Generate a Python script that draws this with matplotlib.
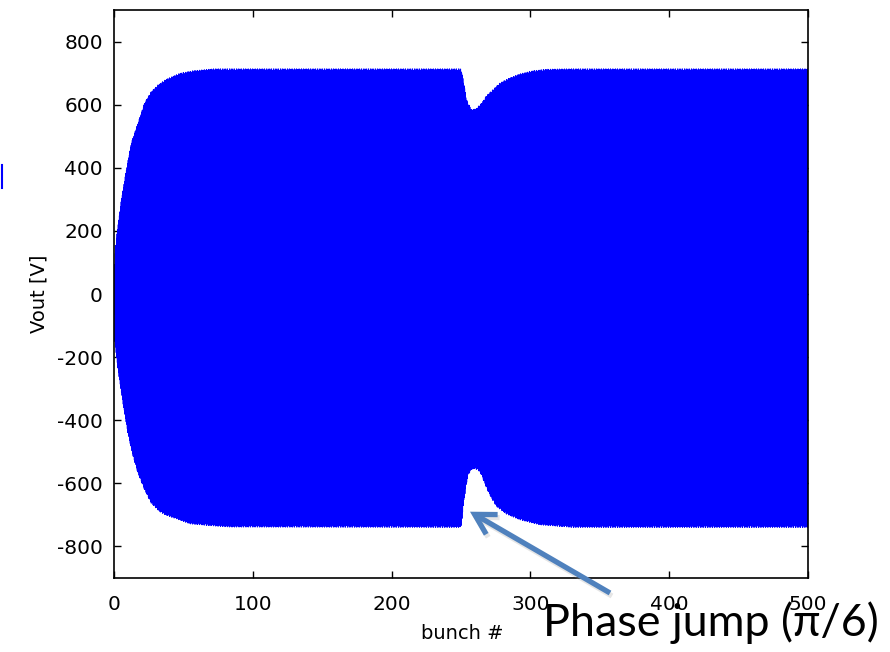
import numpy as np
import matplotlib
matplotlib.use("Agg")
import matplotlib.pyplot as plt
from matplotlib.patches import FancyArrowPatch
from matplotlib.lines import Line2D

plt.rcParams["axes.unicode_minus"] = False

# Envelope of the cavity output voltage (bunch number, volts)
bunch_upper = [0, 0.5, 1.6, 5.3, 8.9, 12.5, 17.3, 22, 26.7, 31.7, 37.7, 47.5, 57, 72,
               250, 251.7, 254, 257.6, 261, 264.8, 268.4, 273, 278, 285, 292.5, 302,
               312, 330, 500]
volt_upper = [0, 110, 174, 300, 395, 480, 543, 606, 641, 663, 681, 700, 708, 714,
              714, 679, 616, 584, 588, 605, 629, 648, 669, 685, 698, 708,
              713, 714, 714]

bunch_lower = [0, 0.5, 2.9, 6.5, 10, 13.7, 17.3, 22, 26.7, 32.8, 37.7, 45, 54.8, 70,
               84, 250.4, 251, 252, 253.5, 255, 257.6, 260, 262.4, 264.8, 268.4,
               272, 275.6, 282.8, 292.4, 306.8, 330, 500]
volt_lower = [0, -147, -242, -348, -442, -515, -569, -621, -663, -690, -702, -713,
              -729, -735, -739, -740, -700, -660, -616, -575, -556, -554, -558, -574,
              -616, -648, -674, -698, -716, -732, -740, -740]

# RF carrier
rf_cycles_per_bunch = 2.37
samples_per_bunch = 48
jump_bunch = 250
jump_phase = np.pi / 6

x_ticks = [0, 100, 200, 300, 400, 500]
y_ticks = [-800, -600, -400, -200, 0, 200, 400, 600, 800]

t = np.linspace(0, 500, 500 * samples_per_bunch + 1)
up = np.interp(t, bunch_upper, volt_upper)
lo = np.interp(t, bunch_lower, volt_lower)
mid = (up + lo) / 2
half = (up - lo) / 2
phase = 2 * np.pi * rf_cycles_per_bunch * t + np.where(t >= jump_bunch, jump_phase, 0.0)
vout = mid + half * np.cos(phase)

fig = plt.figure(figsize=(8.9, 6.52), dpi=100)
ax = fig.add_axes([114 / 890, 1 - 578 / 652, 694 / 890, 568 / 652])

ax.plot(t, vout, color=(0, 0, 1), lw=0.5)

ax.set_xlim(0, 500)
ax.set_ylim(-900, 900)
ax.set_xticks(x_ticks)
ax.set_yticks(y_ticks)
ax.tick_params(direction="in", top=True, right=True, length=5, width=1,
               labelsize=14.5)
ax.tick_params(axis="x", pad=12)
ax.tick_params(axis="y", pad=8)
for s in ax.spines.values():
    s.set_linewidth(1.2)

ax.set_ylabel("Vout [V]", fontsize=14, labelpad=6)
ax.set_xlabel("bunch #", fontsize=14)
ax.xaxis.set_label_coords((462 - 114) / 694, -(624 - 578) / 568)

# Annotation arrow pointing at the phase jump
tip = (470 / 890, 1 - 511.7 / 652)
tail = (610 / 890, 1 - 593 / 652)
shadow = FancyArrowPatch((tail[0] + 2 / 890, tail[1] - 3 / 652),
                         (tip[0] + 2 / 890, tip[1] - 3 / 652),
                         transform=fig.transFigure,
                         arrowstyle="->,head_length=0.72,head_width=0.41",
                         mutation_scale=20, lw=3.8, color="0.6", alpha=0.25,
                         shrinkA=0, shrinkB=0, joinstyle="miter", capstyle="butt")
fig.add_artist(shadow)
arrow = FancyArrowPatch(tail, tip, transform=fig.transFigure,
                        arrowstyle="->,head_length=0.72,head_width=0.41",
                        mutation_scale=20, lw=3.8, color="#4F81BD",
                        shrinkA=0, shrinkB=0, joinstyle="miter", capstyle="butt")
fig.add_artist(arrow)

fig.text(543 / 890, 1 - 636 / 652, "Phase jump (π/6)", fontsize=32.3,
         family=["Lato", "DejaVu Sans"], ha="left", va="baseline", color="black")

# small stray mark at the left border
fig.add_artist(Line2D([1.5 / 890, 1.5 / 890], [1 - 165 / 652, 1 - 188 / 652],
                      transform=fig.transFigure, color=(0, 0, 1), lw=1.5))

fig.savefig("out.png", dpi=100, facecolor="white")
